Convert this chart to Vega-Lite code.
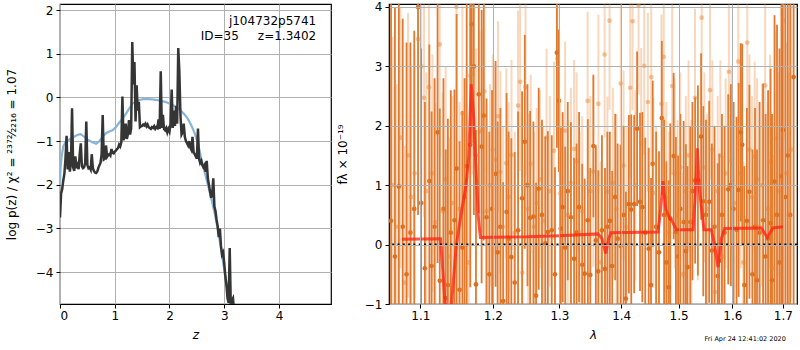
{
"$schema": "https://vega.github.io/schema/vega-lite/v6.json",
"padding": {"left": 4, "top": 0, "right": 0, "bottom": 0},
"background": "white",
"bounds": "flush",
"spacing": 58,
"config": {
  "font": "DejaVu Sans",
  "view": {"stroke": "black", "strokeWidth": 1.2},
  "axis": {"domain": false, "grid": true, "gridColor": "#b0b0b0", "gridWidth": 1, "ticks": true, "tickColor": "black", "tickSize": 4, "tickWidth": 1, "labelFontSize": 12, "labelColor": "black", "labelFont": "DejaVu Sans", "titleFont": "DejaVu Sans", "titleFontSize": 12, "titleFontWeight": "normal", "titleColor": "black", "labelPadding": 3}
},
"datasets": {
  "pz": [
    {"z":0.00,"p":-2.75},{"z":0.02,"p":-2.20},{"z":0.04,"p":-2.10},{"z":0.06,"p":-1.90},{"z":0.08,"p":-1.75},{"z":0.10,"p":-1.40},{"z":0.12,"p":-0.88},{"z":0.14,"p":-1.65},{"z":0.16,"p":-1.25},{"z":0.18,"p":-1.70},
    {"z":0.20,"p":-1.50},{"z":0.22,"p":-0.25},{"z":0.24,"p":-1.60},{"z":0.26,"p":-1.68},{"z":0.28,"p":-1.35},{"z":0.30,"p":-1.62},{"z":0.32,"p":-1.55},{"z":0.34,"p":-1.64},{"z":0.36,"p":-1.30},{"z":0.38,"p":-1.05},
    {"z":0.40,"p":-1.58},{"z":0.42,"p":-1.62},{"z":0.44,"p":-1.60},{"z":0.46,"p":-1.50},{"z":0.48,"p":-0.55},{"z":0.50,"p":-1.55},{"z":0.52,"p":-1.62},{"z":0.54,"p":-1.60},{"z":0.56,"p":-1.65},{"z":0.58,"p":-1.30},
    {"z":0.60,"p":-1.62},{"z":0.62,"p":-1.68},{"z":0.64,"p":-1.72},{"z":0.66,"p":-1.73},{"z":0.68,"p":-1.70},{"z":0.70,"p":-1.62},{"z":0.72,"p":-1.55},{"z":0.74,"p":-1.50},{"z":0.76,"p":-1.30},{"z":0.78,"p":-0.40},
    {"z":0.80,"p":-1.42},{"z":0.82,"p":-1.40},{"z":0.84,"p":-1.10},{"z":0.86,"p":-1.36},{"z":0.88,"p":-1.32},{"z":0.90,"p":-1.30},{"z":0.92,"p":-1.33},{"z":0.94,"p":-1.18},{"z":0.96,"p":-1.27},{"z":0.98,"p":-1.28},
    {"z":1.00,"p":-1.24},{"z":1.02,"p":-1.22},{"z":1.04,"p":-1.18},{"z":1.06,"p":-1.16},{"z":1.08,"p":-1.08},{"z":1.10,"p":-1.12},{"z":1.12,"p":-1.03},{"z":1.14,"p":0.02},{"z":1.16,"p":-0.98},{"z":1.18,"p":-0.90},
    {"z":1.20,"p":-0.60},{"z":1.22,"p":-0.95},{"z":1.24,"p":-0.85},{"z":1.26,"p":-0.52},{"z":1.28,"p":-0.85},{"z":1.30,"p":-0.70},{"z":1.32,"p":1.27},{"z":1.34,"p":0.30},{"z":1.36,"p":0.81},{"z":1.38,"p":-0.55},
    {"z":1.40,"p":0.28},{"z":1.42,"p":-0.30},{"z":1.44,"p":-0.10},{"z":1.46,"p":-0.68},{"z":1.48,"p":-0.66},{"z":1.50,"p":-0.65},{"z":1.52,"p":-0.62},{"z":1.54,"p":-0.64},{"z":1.56,"p":-0.60},{"z":1.58,"p":-0.66},
    {"z":1.60,"p":-0.62},{"z":1.62,"p":-0.68},{"z":1.64,"p":-0.70},{"z":1.66,"p":-0.72},{"z":1.68,"p":-0.68},{"z":1.70,"p":-0.70},{"z":1.72,"p":-0.66},{"z":1.74,"p":-0.72},{"z":1.76,"p":-0.68},{"z":1.78,"p":-0.70},
    {"z":1.80,"p":-0.50},{"z":1.82,"p":-0.72},{"z":1.84,"p":0.60},{"z":1.86,"p":-0.70},{"z":1.88,"p":-0.40},{"z":1.90,"p":-0.72},{"z":1.92,"p":-0.75},{"z":1.94,"p":-0.70},{"z":1.96,"p":-0.80},{"z":1.98,"p":-0.72},
    {"z":2.00,"p":-0.78},{"z":2.02,"p":-0.60},{"z":2.04,"p":0.18},{"z":2.06,"p":-0.70},{"z":2.08,"p":-0.30},{"z":2.10,"p":-0.65},{"z":2.12,"p":-0.20},{"z":2.14,"p":-0.60},{"z":2.16,"p":1.13},{"z":2.18,"p":0.60},
    {"z":2.20,"p":-0.40},{"z":2.22,"p":-0.85},{"z":2.24,"p":-0.80},{"z":2.26,"p":-0.60},{"z":2.28,"p":-0.90},{"z":2.30,"p":-1.00},{"z":2.32,"p":-1.05},{"z":2.34,"p":-1.10},{"z":2.36,"p":-1.00},{"z":2.38,"p":-1.15},
    {"z":2.40,"p":-1.20},{"z":2.42,"p":-0.90},{"z":2.44,"p":-1.25},{"z":2.46,"p":-1.30},{"z":2.48,"p":-1.35},{"z":2.50,"p":-1.40},{"z":2.52,"p":-0.71},{"z":2.54,"p":-1.40},{"z":2.56,"p":-1.50},{"z":2.58,"p":-1.45},
    {"z":2.60,"p":-1.55},{"z":2.62,"p":-1.60},{"z":2.64,"p":-1.55},{"z":2.66,"p":-1.70},{"z":2.68,"p":-1.45},{"z":2.70,"p":-1.85},{"z":2.72,"p":-2.00},{"z":2.74,"p":-2.15},{"z":2.76,"p":-2.30},{"z":2.78,"p":-2.20},
    {"z":2.80,"p":-1.85},{"z":2.82,"p":-2.50},{"z":2.84,"p":-2.60},{"z":2.86,"p":-2.80},{"z":2.88,"p":-2.95},{"z":2.90,"p":-3.20},{"z":2.92,"p":-3.00},{"z":2.94,"p":-3.40},{"z":2.96,"p":-3.60},{"z":2.98,"p":-3.55},
    {"z":3.00,"p":-3.80},{"z":3.02,"p":-4.10},{"z":3.04,"p":-4.30},{"z":3.06,"p":-4.60},{"z":3.08,"p":-4.70},{"z":3.10,"p":-3.45},{"z":3.12,"p":-4.80},{"z":3.14,"p":-4.65},{"z":3.16,"p":-4.60},{"z":3.18,"p":-4.90}
  ],
  "pzs": [
    {"z":0.00,"p":-1.95},{"z":0.01,"p":-1.60},{"z":0.03,"p":-1.35},{"z":0.06,"p":-1.12},{"z":0.10,"p":-1.02},{"z":0.16,"p":-0.97},{"z":0.22,"p":-0.93},{"z":0.28,"p":-0.88},{"z":0.34,"p":-0.85},{"z":0.38,"p":-0.84},
    {"z":0.44,"p":-0.90},{"z":0.50,"p":-0.96},{"z":0.58,"p":-1.02},{"z":0.66,"p":-1.06},{"z":0.72,"p":-1.00},{"z":0.78,"p":-0.90},{"z":0.84,"p":-0.82},{"z":0.90,"p":-0.78},{"z":0.96,"p":-0.75},{"z":1.02,"p":-0.68},
    {"z":1.08,"p":-0.58},{"z":1.14,"p":-0.49},{"z":1.20,"p":-0.38},{"z":1.26,"p":-0.26},{"z":1.32,"p":-0.15},{"z":1.38,"p":-0.09},{"z":1.44,"p":-0.06},{"z":1.52,"p":-0.04},{"z":1.62,"p":-0.04},{"z":1.72,"p":-0.05},
    {"z":1.82,"p":-0.07},{"z":1.92,"p":-0.10},{"z":2.02,"p":-0.15},{"z":2.10,"p":-0.20},{"z":2.18,"p":-0.27},{"z":2.26,"p":-0.37},{"z":2.33,"p":-0.48},{"z":2.40,"p":-0.64},{"z":2.46,"p":-0.82},{"z":2.52,"p":-1.05},
    {"z":2.58,"p":-1.40},{"z":2.63,"p":-1.65},{"z":2.68,"p":-1.89},{"z":2.73,"p":-2.14},{"z":2.78,"p":-2.40},{"z":2.83,"p":-2.68},{"z":2.88,"p":-3.00},{"z":2.93,"p":-3.38},{"z":2.98,"p":-3.78},{"z":3.03,"p":-4.18},
    {"z":3.08,"p":-4.62},{"z":3.12,"p":-5.00}
  ],
  "dark": [
    {"l":1.062,"f":0.4,"e":4.0},{"l":1.067,"f":-0.2,"e":4.2},{"l":1.072,"f":0.98,"e":3.8},{"l":1.077,"f":0.3,"e":3.5},{"l":1.082,"f":-0.5,"e":3.9},{"l":1.087,"f":0.2,"e":3.2},{"l":1.092,"f":0.6,"e":3.0},{"l":1.097,"f":4.0,"e":3.5},{"l":1.101,"f":0.7,"e":2.6},{"l":1.106,"f":-0.4,"e":2.8},
    {"l":1.112,"f":1.07,"e":2.3},{"l":1.115,"f":-0.36,"e":2.6},{"l":1.119,"f":0.3,"e":2.5},{"l":1.123,"f":1.89,"e":2.2},{"l":1.126,"f":-0.61,"e":2.9},{"l":1.131,"f":0.6,"e":2.2},{"l":1.134,"f":-0.9,"e":2.5},{"l":1.137,"f":-0.68,"e":2.8},{"l":1.141,"f":0.2,"e":2.4},{"l":1.146,"f":0.41,"e":2.2},
    {"l":1.149,"f":1.28,"e":2.6},{"l":1.153,"f":-0.76,"e":2.5},{"l":1.157,"f":-0.05,"e":2.3},{"l":1.160,"f":0.8,"e":2.0},{"l":1.163,"f":1.32,"e":2.8},{"l":1.168,"f":1.68,"e":2.4},{"l":1.170,"f":3.71,"e":2.0},{"l":1.173,"f":3.0,"e":2.5},{"l":1.176,"f":-0.67,"e":2.6},{"l":1.180,"f":2.53,"e":2.0},
    {"l":1.184,"f":1.65,"e":2.3},{"l":1.187,"f":2.17,"e":2.1},{"l":1.191,"f":0.46,"e":2.0},{"l":1.195,"f":-0.5,"e":2.4},{"l":1.199,"f":0.6,"e":2.0},{"l":1.204,"f":1.19,"e":1.9},{"l":1.207,"f":-0.13,"e":2.2},{"l":1.211,"f":0.3,"e":2.0},{"l":1.215,"f":-0.95,"e":2.0},{"l":1.220,"f":0.55,"e":2.0},
    {"l":1.223,"f":0.1,"e":1.8},{"l":1.227,"f":-0.21,"e":2.0},{"l":1.232,"f":-0.64,"e":2.2},{"l":1.237,"f":0.24,"e":2.0},{"l":1.243,"f":0.78,"e":1.8},{"l":1.247,"f":1.73,"e":1.8},{"l":1.251,"f":1.0,"e":1.7},{"l":1.255,"f":0.45,"e":1.8},{"l":1.260,"f":0.47,"e":1.6},{"l":1.264,"f":-0.86,"e":1.9},
    {"l":1.268,"f":0.94,"e":1.7},{"l":1.273,"f":0.5,"e":1.6},{"l":1.278,"f":0.02,"e":1.8},{"l":1.282,"f":0.21,"e":1.7},{"l":1.288,"f":0.24,"e":1.6},{"l":1.293,"f":-0.5,"e":1.8},{"l":1.296,"f":3.23,"e":1.6},{"l":1.299,"f":2.42,"e":1.2},{"l":1.302,"f":0.27,"e":1.7},{"l":1.305,"f":0.63,"e":1.6},
    {"l":1.309,"f":-0.05,"e":1.7},{"l":1.313,"f":0.9,"e":1.5},{"l":1.318,"f":0.46,"e":1.6},{"l":1.323,"f":-0.24,"e":1.7},{"l":1.327,"f":0.2,"e":1.5},{"l":1.331,"f":0.63,"e":1.6},{"l":1.336,"f":-0.34,"e":1.7},{"l":1.340,"f":-0.49,"e":1.6},{"l":1.345,"f":0.41,"e":1.7},{"l":1.349,"f":-0.51,"e":1.8},
    {"l":1.354,"f":1.66,"e":1.2},{"l":1.358,"f":0.07,"e":1.6},{"l":1.362,"f":-0.45,"e":1.7},{"l":1.368,"f":0.24,"e":1.6},{"l":1.373,"f":-0.41,"e":1.7},{"l":1.377,"f":0.3,"e":1.6},{"l":1.381,"f":0.4,"e":1.5},{"l":1.385,"f":-0.36,"e":1.6},{"l":1.390,"f":0.8,"e":1.4},{"l":1.394,"f":0.1,"e":1.6},
    {"l":1.399,"f":-0.02,"e":1.7},{"l":1.404,"f":0.5,"e":1.5},{"l":1.408,"f":-0.91,"e":1.8},{"l":1.413,"f":0.68,"e":1.5},{"l":1.417,"f":0.59,"e":1.6},{"l":1.422,"f":0.68,"e":1.5},{"l":1.427,"f":1.95,"e":1.3},{"l":1.432,"f":0.72,"e":1.5},{"l":1.436,"f":0.63,"e":1.6},{"l":1.441,"f":0.2,"e":1.6},
    {"l":1.447,"f":-0.07,"e":1.7},{"l":1.451,"f":-0.68,"e":1.8},{"l":1.454,"f":1.36,"e":1.4},{"l":1.460,"f":0.3,"e":1.6},{"l":1.465,"f":-0.13,"e":1.7},{"l":1.470,"f":2.13,"e":1.3},{"l":1.474,"f":0.5,"e":1.6},{"l":1.478,"f":-0.3,"e":1.7},{"l":1.482,"f":-0.72,"e":1.8},{"l":1.485,"f":0.44,"e":1.6},
    {"l":1.491,"f":1.49,"e":1.4},{"l":1.495,"f":0.21,"e":1.6},{"l":1.499,"f":-0.2,"e":1.7},{"l":1.503,"f":0.6,"e":1.6},{"l":1.509,"f":0.38,"e":1.7},{"l":1.513,"f":-0.11,"e":1.8},{"l":1.516,"f":-0.38,"e":1.7},{"l":1.521,"f":0.38,"e":1.6},{"l":1.525,"f":0.9,"e":1.5},{"l":1.530,"f":1.08,"e":1.4},
    {"l":1.535,"f":1.08,"e":1.6},{"l":1.541,"f":1.82,"e":1.4},{"l":1.545,"f":0.73,"e":1.6},{"l":1.550,"f":0.5,"e":1.6},{"l":1.556,"f":0.72,"e":1.7},{"l":1.561,"f":-0.1,"e":1.8},{"l":1.566,"f":0.3,"e":1.7},{"l":1.572,"f":-0.53,"e":1.9},{"l":1.575,"f":-0.27,"e":1.8},{"l":1.580,"f":0.5,"e":1.7},
    {"l":1.585,"f":0.2,"e":1.8},{"l":1.592,"f":0.93,"e":1.6},{"l":1.597,"f":1.0,"e":1.7},{"l":1.602,"f":0.6,"e":1.8},{"l":1.608,"f":0.25,"e":1.9},{"l":1.612,"f":0.92,"e":1.8},{"l":1.616,"f":1.89,"e":1.5},{"l":1.619,"f":1.68,"e":1.7},{"l":1.623,"f":-0.68,"e":2.0},{"l":1.628,"f":0.4,"e":1.9},
    {"l":1.633,"f":0.89,"e":1.8},{"l":1.639,"f":-0.5,"e":2.1},{"l":1.644,"f":0.3,"e":2.0},{"l":1.648,"f":-0.6,"e":2.2},{"l":1.653,"f":0.2,"e":2.2},{"l":1.660,"f":0.41,"e":2.3},{"l":1.665,"f":-0.2,"e":2.4},{"l":1.670,"f":0.1,"e":2.5},{"l":1.675,"f":0.36,"e":2.6},{"l":1.678,"f":-0.6,"e":2.8},
    {"l":1.683,"f":1.06,"e":2.8},{"l":1.688,"f":0.5,"e":3.2},{"l":1.693,"f":-0.3,"e":3.6},{"l":1.697,"f":1.15,"e":4.0},{"l":1.700,"f":1.93,"e":4.0},{"l":1.705,"f":0.8,"e":4.5},{"l":1.710,"f":1.5,"e":4.5},{"l":1.715,"f":0.5,"e":5.0},{"l":1.722,"f":2.82,"e":5.0}
  ],
  "light": [
    {"l":1.064,"f":1.0,"e":2.5},{"l":1.069,"f":0.3,"e":2.4},{"l":1.074,"f":1.8,"e":2.2},{"l":1.0795,"f":-0.64,"e":2.3},{"l":1.084,"f":1.5,"e":2.4},{"l":1.088,"f":0.8,"e":2.2},{"l":1.0926,"f":1.2,"e":2.1},{"l":1.097,"f":3.46,"e":2.0},{"l":1.1013,"f":3.0,"e":2.0},{"l":1.105,"f":2.47,"e":2.0},
    {"l":1.108,"f":0.9,"e":2.0},{"l":1.1115,"f":2.65,"e":1.9},{"l":1.116,"f":1.2,"e":2.0},{"l":1.120,"f":0.38,"e":2.0},{"l":1.1259,"f":3.37,"e":1.9},{"l":1.130,"f":0.56,"e":2.0},{"l":1.134,"f":1.1,"e":1.9},{"l":1.139,"f":-0.2,"e":2.0},{"l":1.143,"f":0.7,"e":1.8},{"l":1.1487,"f":4.0,"e":1.8},
    {"l":1.153,"f":0.6,"e":1.8},{"l":1.157,"f":2.21,"e":1.8},{"l":1.161,"f":1.0,"e":1.8},{"l":1.166,"f":-0.3,"e":1.9},{"l":1.168,"f":2.84,"e":1.7},{"l":1.1714,"f":2.88,"e":1.7},{"l":1.176,"f":1.5,"e":1.8},{"l":1.181,"f":1.9,"e":1.7},{"l":1.185,"f":1.93,"e":1.7},{"l":1.188,"f":2.58,"e":1.6},
    {"l":1.191,"f":0.56,"e":1.8},{"l":1.196,"f":1.0,"e":1.7},{"l":1.200,"f":1.6,"e":1.6},{"l":1.2036,"f":1.43,"e":1.6},{"l":1.2076,"f":2.16,"e":1.6},{"l":1.211,"f":1.22,"e":1.7},{"l":1.215,"f":0.3,"e":1.7},{"l":1.2196,"f":1.37,"e":1.6},{"l":1.223,"f":0.8,"e":1.6},{"l":1.2273,"f":1.51,"e":1.6},
    {"l":1.232,"f":0.2,"e":1.7},{"l":1.2369,"f":2.34,"e":1.6},{"l":1.240,"f":2.74,"e":1.5},{"l":1.2433,"f":-0.47,"e":1.8},{"l":1.2481,"f":2.65,"e":1.5},{"l":1.252,"f":0.6,"e":1.6},{"l":1.256,"f":1.36,"e":1.5},{"l":1.261,"f":0.3,"e":1.6},{"l":1.265,"f":0.7,"e":1.6},{"l":1.270,"f":1.1,"e":1.5},
    {"l":1.275,"f":0.4,"e":1.6},{"l":1.280,"f":1.8,"e":1.5},{"l":1.285,"f":0.9,"e":1.6},{"l":1.2915,"f":1.58,"e":1.5},{"l":1.2968,"f":3.13,"e":1.4},{"l":1.301,"f":0.86,"e":1.6},{"l":1.3088,"f":1.92,"e":1.5},{"l":1.313,"f":0.5,"e":1.6},{"l":1.318,"f":1.04,"e":1.6},{"l":1.323,"f":1.61,"e":1.5},
    {"l":1.327,"f":1.4,"e":1.5},{"l":1.332,"f":0.2,"e":1.7},{"l":1.336,"f":0.56,"e":1.6},{"l":1.3447,"f":2.42,"e":1.5},{"l":1.349,"f":0.9,"e":1.6},{"l":1.354,"f":1.23,"e":1.6},{"l":1.3622,"f":2.37,"e":1.5},{"l":1.366,"f":-0.3,"e":1.7},{"l":1.3724,"f":3.2,"e":1.4},{"l":1.377,"f":0.89,"e":1.6},
    {"l":1.3806,"f":3.77,"e":1.5},{"l":1.386,"f":1.04,"e":1.6},{"l":1.392,"f":0.6,"e":1.6},{"l":1.3993,"f":2.71,"e":1.5},{"l":1.404,"f":1.33,"e":1.6},{"l":1.409,"f":0.3,"e":1.7},{"l":1.4152,"f":2.64,"e":1.5},{"l":1.4192,"f":3.76,"e":1.5},{"l":1.424,"f":1.0,"e":1.6},{"l":1.4295,"f":4.03,"e":1.5},
    {"l":1.434,"f":1.71,"e":1.6},{"l":1.4393,"f":3.01,"e":1.5},{"l":1.4456,"f":2.4,"e":1.5},{"l":1.4515,"f":2.82,"e":1.5},{"l":1.455,"f":0.87,"e":1.6},{"l":1.460,"f":0.3,"e":1.7},{"l":1.4693,"f":2.37,"e":1.5},{"l":1.4734,"f":3.16,"e":1.5},{"l":1.478,"f":0.8,"e":1.6},{"l":1.483,"f":0.2,"e":1.7},
    {"l":1.4884,"f":2.67,"e":1.5},{"l":1.493,"f":1.2,"e":1.6},{"l":1.498,"f":0.5,"e":1.6},{"l":1.503,"f":1.3,"e":1.6},{"l":1.508,"f":-0.5,"e":1.7},{"l":1.513,"f":0.9,"e":1.6},{"l":1.518,"f":1.5,"e":1.6},{"l":1.523,"f":0.4,"e":1.7},{"l":1.5297,"f":2.47,"e":1.5},{"l":1.535,"f":1.0,"e":1.6},
    {"l":1.5421,"f":3.82,"e":1.5},{"l":1.547,"f":1.3,"e":1.6},{"l":1.552,"f":0.6,"e":1.6},{"l":1.5575,"f":2.6,"e":1.5},{"l":1.562,"f":1.6,"e":1.5},{"l":1.567,"f":-0.8,"e":1.8},{"l":1.572,"f":0.9,"e":1.6},{"l":1.577,"f":1.5,"e":1.6},{"l":1.582,"f":-0.2,"e":1.7},{"l":1.587,"f":1.2,"e":1.6},
    {"l":1.5932,"f":2.91,"e":1.5},{"l":1.598,"f":1.4,"e":1.6},{"l":1.603,"f":0.7,"e":1.7},{"l":1.6112,"f":3.08,"e":1.5},{"l":1.616,"f":1.2,"e":1.6},{"l":1.621,"f":-0.3,"e":1.7},{"l":1.6288,"f":3.4,"e":1.5},{"l":1.633,"f":1.6,"e":1.6},{"l":1.638,"f":0.8,"e":1.7},{"l":1.6433,"f":1.48,"e":1.6},
    {"l":1.648,"f":1.1,"e":1.7},{"l":1.653,"f":0.3,"e":1.7},{"l":1.658,"f":1.0,"e":1.7},{"l":1.6641,"f":2.68,"e":1.6},{"l":1.669,"f":0.6,"e":1.8},{"l":1.674,"f":1.4,"e":1.8},{"l":1.680,"f":-0.4,"e":1.9},{"l":1.686,"f":1.79,"e":1.8},{"l":1.691,"f":0.9,"e":2.0},{"l":1.696,"f":-0.5,"e":2.1},
    {"l":1.7017,"f":3.77,"e":2.0},{"l":1.707,"f":1.2,"e":2.2},{"l":1.712,"f":0.5,"e":2.4},{"l":1.717,"f":1.6,"e":2.5}
  ],
  "model": [
    {"l":1.076,"f":0.09},{"l":1.127,"f":0.10},{"l":1.131,"f":-0.6},{"l":1.136,"f":-1.5},{"l":1.142,"f":-1.0},{"l":1.1486,"f":0.0},{"l":1.155,"f":0.5},{"l":1.162,"f":1.0},{"l":1.166,"f":1.5},{"l":1.1693,"f":2.7},
    {"l":1.1725,"f":2.2},{"l":1.1752,"f":1.5},{"l":1.179,"f":0.5},{"l":1.1823,"f":0.12},{"l":1.25,"f":0.13},{"l":1.30,"f":0.15},{"l":1.3616,"f":0.18},{"l":1.368,"f":0.1},{"l":1.3742,"f":-0.15},{"l":1.379,"f":0.1},
    {"l":1.383,"f":0.2},{"l":1.4633,"f":0.21},{"l":1.468,"f":0.6},{"l":1.4721,"f":1.07},{"l":1.477,"f":0.6},{"l":1.484,"f":0.44},{"l":1.488,"f":0.4},{"l":1.4958,"f":0.25},{"l":1.5261,"f":0.25},{"l":1.530,"f":0.8},
    {"l":1.534,"f":1.62},{"l":1.538,"f":0.9},{"l":1.5464,"f":0.25},{"l":1.56,"f":0.25},{"l":1.566,"f":0.0},{"l":1.5726,"f":-0.38},{"l":1.579,"f":0.1},{"l":1.5853,"f":0.27},{"l":1.6565,"f":0.28},{"l":1.6685,"f":0.12},
    {"l":1.6797,"f":0.28},{"l":1.70,"f":0.30}
  ]
},
"hconcat": [
  {
    "width": 271, "height": 300,
    "layer": [
      {
        "data": {"name": "pzs"},
        "mark": {"type": "line", "color": "#86b5d9", "strokeWidth": 2.2, "clip": true},
        "encoding": {
          "x": {"field": "z", "type": "quantitative", "title": "z", "scale": {"domain": [0, 4.95], "nice": false, "zero": false},
                "axis": {"values": [0, 1, 2, 3, 4], "format": "d", "titleFontStyle": "italic", "labelPadding": 2, "titlePadding": 8}},
          "y": {"field": "p", "type": "quantitative", "title": "log p(z) / χ² = ²³⁷²⁄₂₂₁₆ = 1.07", "scale": {"domain": [-4.73, 2.14], "nice": false, "zero": false},
                "axis": {"values": [-4, -3, -2, -1, 0, 1, 2], "format": "d", "titlePadding": 17}}
        }
      },
      {
        "data": {"name": "pz"},
        "mark": {"type": "line", "color": "#353535", "strokeWidth": 2.5, "clip": true},
        "encoding": {
          "x": {"field": "z", "type": "quantitative", "title": "z"},
          "y": {"field": "p", "type": "quantitative", "title": "log p(z) / χ² = ²³⁷²⁄₂₂₁₆ = 1.07"}
        }
      },
      {
        "data": {"values": [{}]},
        "mark": {"type": "text", "align": "right", "baseline": "middle", "fontSize": 12, "color": "black"},
        "encoding": {"x": {"datum": 4.68}, "y": {"datum": 1.74}, "text": {"value": "j104732p5741"}}
      },
      {
        "data": {"values": [{}]},
        "mark": {"type": "text", "align": "right", "baseline": "middle", "fontSize": 12, "color": "black"},
        "encoding": {"x": {"datum": 4.68}, "y": {"datum": 1.41}, "text": {"value": "ID=35\u00a0\u00a0\u00a0\u00a0\u00a0z=1.3402"}}
      }
    ]
  },
  {
    "width": 408, "height": 300,
    "layer": [
      {
        "data": {"name": "dark"},
        "mark": {"type": "errorbar", "thickness": 1.8, "clip": true},
        "encoding": {
          "x": {"field": "l", "type": "quantitative", "title": "λ", "scale": {"type": "log", "domain": [1.0594, 1.729], "nice": false, "zero": false},
                "axis": {"values": [1.1, 1.2, 1.3, 1.4, 1.5, 1.6, 1.7], "format": ".1f", "titleFontStyle": "italic", "labelPadding": 2, "titlePadding": 8, "zindex": 1}},
          "y": {"field": "f", "type": "quantitative", "title": "fλ × 10⁻¹⁹", "scale": {"domain": [-1, 4.05], "nice": false, "zero": false},
                "axis": {"values": [-1, 0, 1, 2, 3, 4], "format": "d", "titlePadding": 15, "zindex": 1}},
          "yError": {"field": "e"},
          "color": {"value": "#dc6e1e"},
          "opacity": {"value": 0.92}
        }
      },
      {
        "data": {"name": "dark"},
        "mark": {"type": "point", "filled": true, "color": "#dc6e1e", "opacity": 1, "size": 22, "clip": true},
        "encoding": {
          "x": {"field": "l", "type": "quantitative", "title": "λ"},
          "y": {"field": "f", "type": "quantitative", "title": "fλ × 10⁻¹⁹"}
        }
      },
      {
        "data": {"name": "light"},
        "mark": {"type": "errorbar", "thickness": 2, "clip": true},
        "encoding": {
          "x": {"field": "l", "type": "quantitative", "title": "λ"},
          "y": {"field": "f", "type": "quantitative", "title": "fλ × 10⁻¹⁹"},
          "yError": {"field": "e"},
          "color": {"value": "#ea8535"},
          "opacity": {"value": 0.33}
        }
      },
      {
        "data": {"name": "light"},
        "mark": {"type": "point", "filled": true, "color": "#e8812e", "opacity": 0.45, "size": 22, "clip": true},
        "encoding": {
          "x": {"field": "l", "type": "quantitative", "title": "λ"},
          "y": {"field": "f", "type": "quantitative", "title": "fλ × 10⁻¹⁹"}
        }
      },
      {
        "data": {"name": "model"},
        "mark": {"type": "line", "color": "#ff2010", "strokeWidth": 3, "opacity": 0.75, "clip": true},
        "encoding": {
          "x": {"field": "l", "type": "quantitative", "title": "λ"},
          "y": {"field": "f", "type": "quantitative", "title": "fλ × 10⁻¹⁹"}
        }
      },
      {
        "data": {"values": [{}]},
        "mark": {"type": "rule", "color": "black", "strokeWidth": 2, "strokeDash": [2, 3.3]},
        "encoding": {"y": {"datum": 0}}
      },
      {
        "data": {"values": [{}]},
        "mark": {"type": "text", "align": "right", "baseline": "middle", "fontSize": 6.5, "color": "black"},
        "encoding": {"x": {"datum": 1.706}, "y": {"datum": -1.59}, "text": {"value": "Fri Apr 24 12:41:02 2020"}}
      }
    ]
  }
]
}
